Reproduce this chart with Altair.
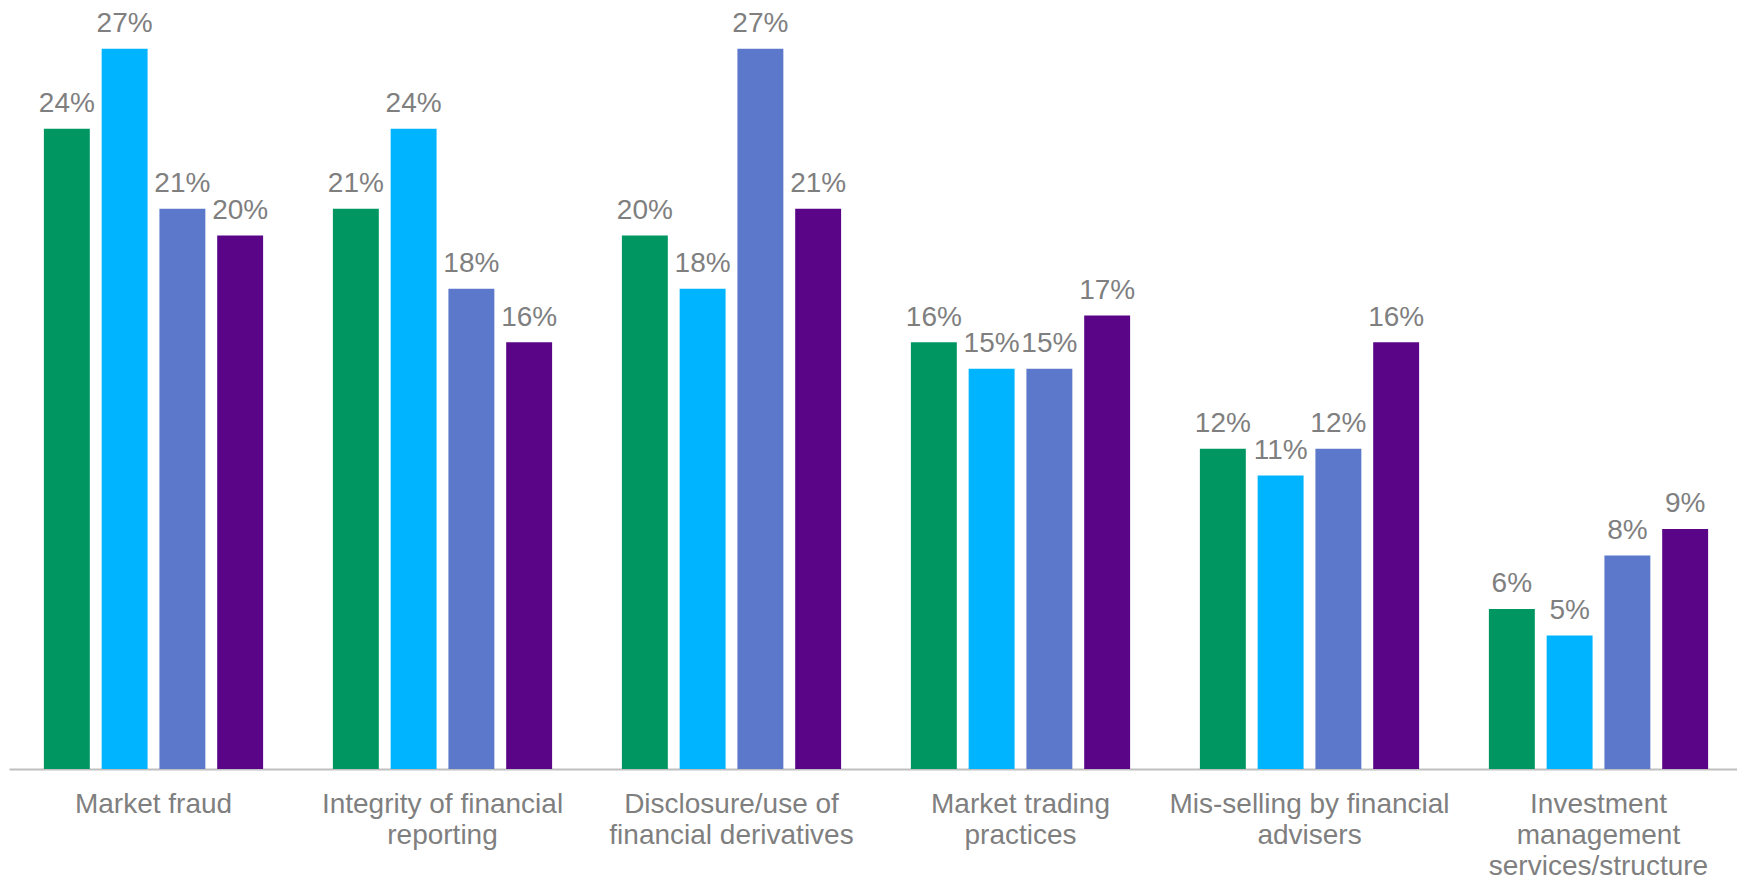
import altair as alt
import pandas as pd

categories = [
    "Market fraud",
    "Integrity of financial\nreporting",
    "Disclosure/use of\nfinancial derivatives",
    "Market trading\npractices",
    "Mis-selling by financial\nadvisers",
    "Investment\nmanagement\nservices/structure",
]
series = ["Series 1", "Series 2", "Series 3", "Series 4"]
s1 = [24, 21, 20, 16, 12, 6]
s2 = [27, 24, 18, 15, 11, 5]
s3 = [21, 18, 27, 15, 12, 8]
s4 = [20, 16, 21, 17, 16, 9]
colors = ["#009661", "#00B4FF", "#5B78CB", "#5A0587"]

rows = []
for name, vals in zip(series, [s1, s2, s3, s4]):
    for c, v in zip(categories, vals):
        rows.append({"category": c, "series": name, "value": v})
df = pd.DataFrame(rows)

x = alt.X(
    "category:N",
    sort=categories,
    title=None,
    scale=alt.Scale(paddingInner=0, paddingOuter=0, range=[0, 1734]),
    axis=alt.Axis(
        labelAngle=0,
        labelExpr="split(datum.value, '\\n')",
        labelFont="Liberation Sans",
        labelFontSize=28,
        labelColor="#7F7F7F",
        labelLineHeight=31,
        labelPadding=21,
        labelLimit=0,
        ticks=False,
        domainColor="#BFBFBF",
        domainWidth=2,
        grid=False,
    ),
)
xo = alt.XOffset(
    "series:N",
    sort=series,
    scale=alt.Scale(paddingInner=0.205, paddingOuter=0.604),
)
y = alt.Y("value:Q", scale=alt.Scale(domain=[0, 28], nice=False, zero=True), axis=None)

base = alt.Chart(df).encode(x=x, xOffset=xo, y=y)

bars = base.mark_bar().encode(
    color=alt.Color("series:N", sort=series, scale=alt.Scale(domain=series, range=colors), legend=None)
)
texts = base.transform_calculate(label="datum.value + '%'").mark_text(
    baseline="alphabetic",
    dy=-16.5,
    font="Liberation Sans",
    fontSize=28,
    color="#7F7F7F",
).encode(text="label:N")

chart = (
    alt.layer(bars, texts)
    .properties(
        width=1728,
        height=747,
        autosize=alt.AutoSizeParams(type="none"),
        padding={"left": 1, "top": 14, "right": 0, "bottom": 110},
        background="white",
    )
    .configure_view(stroke=None)
)

chart.save("out.html", embed_options={"renderer": "svg", "actions": False})
